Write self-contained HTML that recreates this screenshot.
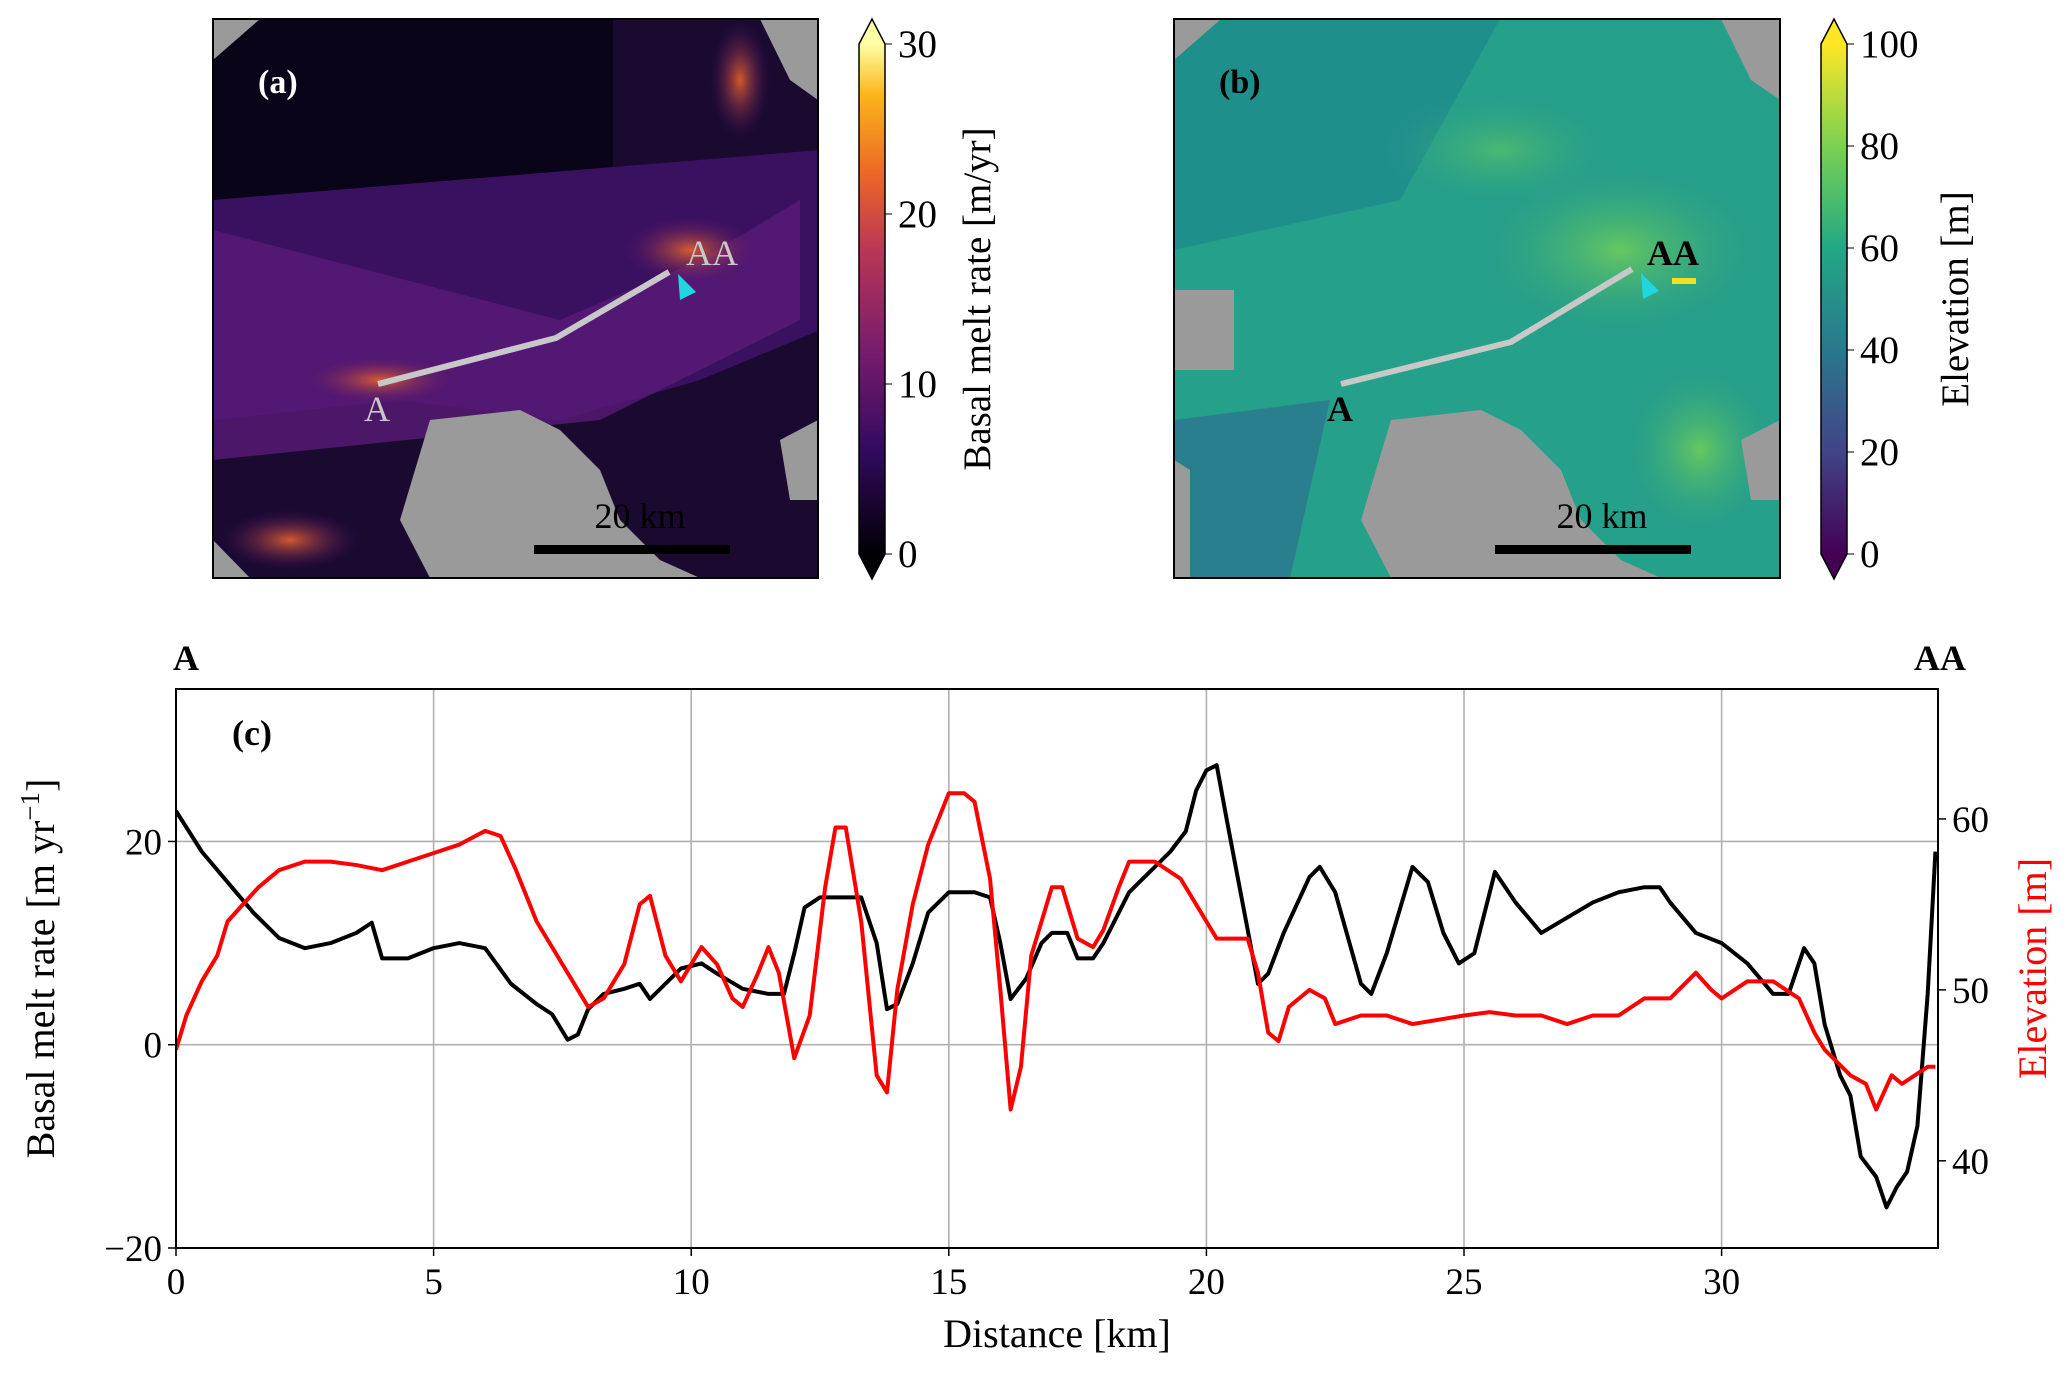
<!DOCTYPE html>
<html><head><meta charset="utf-8">
<style>
html,body{margin:0;padding:0;background:#fff;}
svg{display:block;font-family:"Liberation Serif","DejaVu Serif",serif;}
</style></head>
<body>
<svg id="fig" width="2067" height="1377" viewBox="0 0 2067 1377" xmlns="http://www.w3.org/2000/svg">
<defs>
<linearGradient id="inferno" x1="0" y1="1" x2="0" y2="0">
<stop offset="0" stop-color="#000004"/><stop offset="0.2" stop-color="#320a5e"/><stop offset="0.4" stop-color="#781c6d"/><stop offset="0.6" stop-color="#bb3755"/><stop offset="0.75" stop-color="#ed6925"/><stop offset="0.9" stop-color="#fbb61a"/><stop offset="1" stop-color="#fcffa4"/>
</linearGradient>
<linearGradient id="viridis" x1="0" y1="1" x2="0" y2="0">
<stop offset="0" stop-color="#440154"/><stop offset="0.2" stop-color="#414487"/><stop offset="0.4" stop-color="#2a788e"/><stop offset="0.6" stop-color="#22a884"/><stop offset="0.8" stop-color="#7ad151"/><stop offset="1" stop-color="#fde725"/>
</linearGradient>
<radialGradient id="glowA" cx="0.5" cy="0.5" r="0.5"><stop offset="0" stop-color="#e8632a" stop-opacity="0.9"/><stop offset="1" stop-color="#4a1070" stop-opacity="0"/></radialGradient>
<radialGradient id="glowB" cx="0.5" cy="0.5" r="0.5"><stop offset="0" stop-color="#6ccd5a" stop-opacity="0.9"/><stop offset="1" stop-color="#2a9a8a" stop-opacity="0"/></radialGradient>
<clipPath id="clipA"><rect x="213" y="19" width="605" height="559"/></clipPath>
<clipPath id="clipB"><rect x="1174" y="19" width="606" height="559"/></clipPath>
<clipPath id="clipC"><rect x="176" y="689" width="1764" height="559"/></clipPath>
</defs>

<g clip-path="url(#clipA)">
<rect x="213" y="19" width="605" height="559" fill="#1a0a30"/>
<rect x="213" y="19" width="400" height="200" fill="#0a0418"/>
<polygon points="213,200 820,150 820,330 700,380 560,420 400,400 213,420" fill="#3a1060"/>
<polygon points="213,230 560,320 700,260 800,200 800,320 600,420 213,460" fill="#5a1a78" opacity="0.8"/>
<ellipse cx="690" cy="250" rx="70" ry="35" fill="url(#glowA)"/>
<ellipse cx="380" cy="380" rx="80" ry="25" fill="url(#glowA)"/>
<ellipse cx="290" cy="540" rx="70" ry="30" fill="url(#glowA)"/>
<ellipse cx="740" cy="80" rx="30" ry="60" fill="url(#glowA)"/>
<polygon points="430,420 520,410 560,430 600,470 620,520 660,560 700,578 430,578 400,520" fill="#9a9a9a"/>
<polygon points="213,540 250,578 213,578" fill="#9a9a9a"/>
<polygon points="760,19 818,19 818,100 790,80" fill="#9a9a9a"/>
<polygon points="213,19 260,19 213,60" fill="#9a9a9a"/>
<polygon points="780,440 818,420 818,500 790,500" fill="#9a9a9a"/>
</g>
<rect x="213" y="19" width="605" height="559" fill="none" stroke="#000" stroke-width="2"/>
<polyline points="378,384 556,338 669,272" fill="none" stroke="#c8c8c8" stroke-width="6"/>
<polygon points="678,274 696,292 680,300" fill="#1fd6e0"/>
<text x="258" y="93" font-size="34" font-weight="bold" fill="#fff">(a)</text>
<text x="364" y="421" font-size="36" fill="#c8c8c8">A</text>
<text x="686" y="265" font-size="36" fill="#c8c8c8">AA</text>
<rect x="534" y="545" width="196" height="9" fill="#000"/>
<text x="640" y="528" font-size="36" text-anchor="middle" fill="#000">20 km</text>

<g>
<rect x="859" y="44" width="26" height="510" fill="url(#inferno)"/>
<polygon points="859,44 885,44 872,19" fill="#fcffa4"/>
<polygon points="859,554 885,554 872,579" fill="#000004"/>
<polygon points="859,44 872,19 885,44 885,554 872,579 859,554" fill="none" stroke="#000" stroke-width="1.5"/>
<g font-size="39" fill="#000">
<line x1="885" y1="44" x2="892" y2="44" stroke="#000"/><text x="898" y="57">30</text>
<line x1="885" y1="214" x2="892" y2="214" stroke="#000"/><text x="898" y="227">20</text>
<line x1="885" y1="384" x2="892" y2="384" stroke="#000"/><text x="898" y="397">10</text>
<line x1="885" y1="554" x2="892" y2="554" stroke="#000"/><text x="898" y="567">0</text>
</g>
<text transform="translate(990,299) rotate(-90)" font-size="39" text-anchor="middle">Basal melt rate [m/yr]</text>
</g>

<g clip-path="url(#clipB)">
<rect x="1174" y="19" width="606" height="559" fill="#25a08a"/>
<polygon points="1174,19 1500,19 1400,200 1174,250" fill="#1f8f8c"/>
<polygon points="1174,420 1330,400 1290,578 1174,578" fill="#2a7f8e"/>
<ellipse cx="1620" cy="250" rx="150" ry="90" fill="url(#glowB)"/>
<ellipse cx="1700" cy="450" rx="80" ry="90" fill="url(#glowB)"/>
<ellipse cx="1500" cy="150" rx="120" ry="60" fill="url(#glowB)" opacity="0.6"/>
<rect x="1174" y="290" width="60" height="80" fill="#9a9a9a"/>
<polygon points="1391,420 1481,410 1521,430 1561,470 1581,520 1621,560 1661,578 1391,578 1361,520" fill="#9a9a9a"/>
<polygon points="1174,460 1190,470 1190,578 1174,578" fill="#9a9a9a"/>
<polygon points="1721,19 1780,19 1780,100 1751,80" fill="#9a9a9a"/>
<polygon points="1174,19 1221,19 1174,60" fill="#9a9a9a"/>
<polygon points="1741,440 1780,420 1780,500 1751,500" fill="#9a9a9a"/>
</g>
<rect x="1174" y="19" width="606" height="559" fill="none" stroke="#000" stroke-width="2"/>
<polyline points="1341,384 1511,342 1632,269" fill="none" stroke="#c8c8c8" stroke-width="6"/>
<polygon points="1641,273 1659,291 1643,299" fill="#1fd6e0"/>
<rect x="1672" y="278" width="24" height="6" fill="#f5e020"/>
<text x="1219" y="93" font-size="34" font-weight="bold" fill="#000">(b)</text>
<text x="1327" y="421" font-size="36" font-weight="bold" fill="#000">A</text>
<text x="1647" y="265" font-size="36" font-weight="bold" fill="#000">AA</text>
<rect x="1495" y="545" width="196" height="9" fill="#000"/>
<text x="1602" y="528" font-size="36" text-anchor="middle" fill="#000">20 km</text>

<g>
<rect x="1821" y="44" width="26" height="510" fill="url(#viridis)"/>
<polygon points="1821,44 1847,44 1834,19" fill="#fde725"/>
<polygon points="1821,554 1847,554 1834,579" fill="#440154"/>
<polygon points="1821,44 1834,19 1847,44 1847,554 1834,579 1821,554" fill="none" stroke="#000" stroke-width="1.5"/>
<g font-size="39" fill="#000">
<line x1="1847" y1="44" x2="1854" y2="44" stroke="#000"/><text x="1860" y="57">100</text>
<line x1="1847" y1="146" x2="1854" y2="146" stroke="#000"/><text x="1860" y="159">80</text>
<line x1="1847" y1="248" x2="1854" y2="248" stroke="#000"/><text x="1860" y="261">60</text>
<line x1="1847" y1="350" x2="1854" y2="350" stroke="#000"/><text x="1860" y="363">40</text>
<line x1="1847" y1="452" x2="1854" y2="452" stroke="#000"/><text x="1860" y="465">20</text>
<line x1="1847" y1="554" x2="1854" y2="554" stroke="#000"/><text x="1860" y="567">0</text>
</g>
<text transform="translate(1968,299) rotate(-90)" font-size="39" text-anchor="middle">Elevation [m]</text>
</g>

<g id="chartC"></g>
</svg>
<script>
const distMelt = [0,0.5,1,1.5,2,2.5,3,3.5,3.8,4,4.5,5,5.5,6,6.5,7,7.3,7.6,7.8,8,8.3,8.7,9,9.2,9.5,9.8,10.2,10.5,11,11.5,11.8,12,12.2,12.5,13,13.3,13.6,13.8,14,14.3,14.6,15,15.5,15.8,16,16.2,16.5,16.8,17,17.3,17.5,17.8,18,18.5,19,19.3,19.6,19.8,20,20.2,20.4,20.7,21,21.2,21.5,22,22.2,22.5,23,23.2,23.5,24,24.3,24.6,24.9,25.2,25.6,26,26.5,27,27.5,28,28.5,28.8,29,29.5,30,30.5,31,31.3,31.6,31.8,32,32.3,32.5,32.7,33,33.2,33.4,33.6,33.8,34,34.15];
const meltValues = [23,19,16,13,10.5,9.5,10,11,12,8.5,8.5,9.5,10,9.5,6,4,3,0.5,1,3.5,5,5.5,6,4.5,6,7.5,8,7,5.5,5,5,9,13.5,14.5,14.5,14.5,10,3.5,4,8,13,15,15,14.5,10,4.5,6.5,10,11,11,8.5,8.5,10,15,17.5,19,21,25,27,27.5,22,14,6,7,11,16.5,17.5,15,6,5,9,17.5,16,11,8,9,17,14,11,12.5,14,15,15.5,15.5,14,11,10,8,5,5,9.5,8,2,-3,-5,-11,-13,-16,-14,-12.5,-8,5,19];
const distElev = [0,0.2,0.5,0.8,1,1.3,1.6,2,2.5,3,3.5,4,4.5,5,5.5,6,6.3,6.6,7,7.5,8,8.3,8.7,9,9.2,9.5,9.8,10.2,10.5,10.8,11,11.3,11.5,11.7,12,12.3,12.6,12.8,13,13.3,13.6,13.8,14,14.3,14.6,15,15.3,15.5,15.8,16,16.2,16.4,16.6,17,17.2,17.5,17.8,18,18.3,18.5,19,19.5,20,20.2,20.5,20.8,21,21.2,21.4,21.6,22,22.3,22.5,23,23.5,24,25,25.5,26,26.5,27,27.5,28,28.5,29,29.5,29.8,30,30.5,31,31.5,31.8,32,32.5,32.8,33,33.3,33.5,34,34.15];
const elevValues = [46.5,48.5,50.5,52,54,55,56,57,57.5,57.5,57.3,57,57.5,58,58.5,59.3,59,57,54,51.5,49,49.5,51.5,55,55.5,52,50.5,52.5,51.5,49.5,49,51,52.5,51,46,48.5,56,59.5,59.5,54,45,44,50,55,58.5,61.5,61.5,61,56.5,50,43,45.5,52,56,56,53,52.5,53.5,56,57.5,57.5,56.5,54,53,53,53,51,47.5,47,49,50,49.5,48,48.5,48.5,48,48.5,48.7,48.5,48.5,48,48.5,48.5,49.5,49.5,51,50,49.5,50.5,50.5,49.5,47.5,46.5,45,44.5,43,45,44.5,45.5,45.5];
const xTicks = [0,5,10,15,20,25,30];
const yLeftTicks = [-20,0,20];
const yRightTicks = [40,50,60];

const NS = 'http://www.w3.org/2000/svg';
const g = document.getElementById('chartC');
const L = 176, R = 1938, T = 689, B = 1248;
document.querySelector('#clipC rect').setAttribute('width', R - L);
const xMin = 0, xMax = 34.2, yLMin = -20, yLMax = 35, yRMin = 34.9, yRMax = 67.6;
const sx = v => L + (v - xMin) / (xMax - xMin) * (R - L);
const syL = v => B - (v - yLMin) / (yLMax - yLMin) * (B - T);
const syR = v => B - (v - yRMin) / (yRMax - yRMin) * (B - T);
function mk(tag, attrs, parent) {
  const e = document.createElementNS(NS, tag);
  for (const k in attrs) e.setAttribute(k, attrs[k]);
  (parent || g).appendChild(e);
  return e;
}
xTicks.forEach(t => {
  const ln = mk('line', {x1: sx(t), x2: sx(t), y1: T, y2: B, stroke: '#b0b0b0', 'stroke-width': 1.6});
  
  
});
yLeftTicks.forEach(t => {
  const ln = mk('line', {x1: L, x2: R, y1: syL(t), y2: syL(t), stroke: '#b0b0b0', 'stroke-width': 1.6});
  
  
});
const melt = mk('polyline', {points: distMelt.map((d, i) => sx(d) + ',' + syL(meltValues[i])).join(' '), fill: 'none', stroke: '#000', 'stroke-width': 4, 'stroke-linejoin': 'round', 'clip-path': 'url(#clipC)'});


const elev = mk('polyline', {points: distElev.map((d, i) => sx(d) + ',' + syR(elevValues[i])).join(' '), fill: 'none', stroke: '#ff0000', 'stroke-width': 4, 'stroke-linejoin': 'round', 'clip-path': 'url(#clipC)'});


const fr = mk('rect', {x: L, y: T, width: R - L, height: B - T, fill: 'none', stroke: '#000', 'stroke-width': 2});


xTicks.forEach(t => {
  mk('line', {x1: sx(t), x2: sx(t), y1: B, y2: B + 8, stroke: '#000', 'stroke-width': 1.5});
  const tx = mk('text', {x: sx(t), y: B + 46, 'font-size': 37, 'text-anchor': 'middle'});
  tx.textContent = t;
  
  
});
yLeftTicks.forEach(t => {
  mk('line', {x1: L - 8, x2: L, y1: syL(t), y2: syL(t), stroke: '#000', 'stroke-width': 1.5});
  const tx = mk('text', {x: L - 14, y: syL(t) + 13, 'font-size': 37, 'text-anchor': 'end'});
  tx.textContent = t < 0 ? '\u2212' + (-t) : t;
  
  
});
yRightTicks.forEach(t => {
  mk('line', {x1: R, x2: R + 8, y1: syR(t), y2: syR(t), stroke: '#000', 'stroke-width': 1.5});
  const tx = mk('text', {x: R + 14, y: syR(t) + 13, 'font-size': 37});
  tx.textContent = t;
  
  
});
const xl = mk('text', {x: (L + R) / 2, y: 1347, 'font-size': 40, 'text-anchor': 'middle'});
xl.textContent = 'Distance [km]';


const yl = mk('text', {transform: 'translate(54,' + ((T + B) / 2) + ') rotate(-90)', 'font-size': 40, 'text-anchor': 'middle'});
yl.innerHTML = 'Basal melt rate [m yr<tspan baseline-shift="super" font-size="27">\u22121</tspan>]';


const yr = mk('text', {transform: 'translate(2046,' + ((T + B) / 2) + ') rotate(-90)', 'font-size': 40, 'text-anchor': 'middle', fill: '#ff0000'});
yr.textContent = 'Elevation [m]';


const pc = mk('text', {x: 232, y: 745, 'font-size': 36, 'font-weight': 'bold'});
pc.textContent = '(c)';


const la = mk('text', {x: 173, y: 670, 'font-size': 36, 'font-weight': 'bold'});
la.textContent = 'A';


const laa = mk('text', {x: 1966, y: 670, 'font-size': 36, 'font-weight': 'bold', 'text-anchor': 'end'});
laa.textContent = 'AA';


</script>
</body></html>
